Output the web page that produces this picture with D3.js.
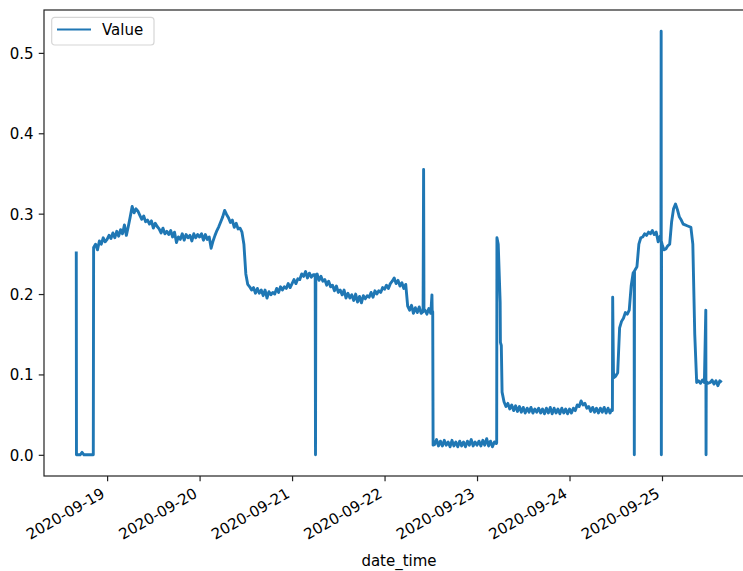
<!DOCTYPE html>
<html>
<head>
<meta charset="utf-8">
<script src="https://cdn.jsdelivr.net/npm/d3@7"></script>
<style>
  body { margin: 0; background: #ffffff; }
  svg { display: block; }
  text { font-family: "DejaVu Sans", sans-serif; fill: #000; }
</style>
</head>
<body>
<svg id="chart" width="743" height="571"></svg>
<script>
// Sensor readings, one value every 30 minutes, grouped by calendar day.
const seriesName = "Value";
const xAxisLabel = "date_time";
const stepMinutes = 30;

// 2020-09-18, from 16:00
const sep18 = [0.253, 0, 0, 0.003, 0, 0, 0, 0, 0, 0.258, 0.262, 0.255, 0.266, 0.262, 0.270, 0.265];

const sep19 = [
  0.268, 0.273, 0.269, 0.276, 0.270, 0.278, 0.272, 0.280, 0.275, 0.286,
  0.273, 0.284, 0.296, 0.309, 0.301, 0.306, 0.303, 0.298, 0.293, 0.297,
  0.290, 0.292, 0.287, 0.291, 0.282, 0.288, 0.284, 0.281, 0.276, 0.282,
  0.275, 0.278, 0.274, 0.279, 0.271, 0.277, 0.264, 0.271, 0.268, 0.275,
  0.267, 0.274, 0.270, 0.273, 0.266, 0.275, 0.270, 0.274
];

const sep20 = [
  0.271, 0.275, 0.267, 0.274, 0.268, 0.271, 0.257, 0.266, 0.273, 0.279,
  0.284, 0.290, 0.296, 0.304, 0.299, 0.295, 0.289, 0.292, 0.283, 0.288,
  0.281, 0.282, 0.277, 0.262, 0.225, 0.212, 0.209, 0.205, 0.208, 0.201,
  0.207, 0.201, 0.205, 0.198, 0.205, 0.195, 0.203, 0.199, 0.202, 0.200,
  0.207, 0.202, 0.209, 0.205, 0.209, 0.207, 0.213, 0.208
];

const sep21 = [
  0.213, 0.218, 0.213, 0.219, 0.218, 0.225, 0.222, 0.228, 0.220, 0.226,
  0.221, 0.224, 0.224, 0.225, 0.217, 0.222, 0.216, 0.218, 0.211, 0.216,
  0.209, 0.211, 0.204, 0.210, 0.202, 0.205, 0.199, 0.205, 0.195, 0.201,
  0.195, 0.199, 0.192, 0.200, 0.190, 0.197, 0.189, 0.198, 0.194, 0.198,
  0.196, 0.202, 0.196, 0.204, 0.200, 0.204, 0.202, 0.208
];

const sep22 = [
  0.206, 0.211, 0.207, 0.213, 0.216, 0.220, 0.213, 0.217, 0.210, 0.214,
  0.207, 0.212, 0.185, 0.180, 0.186, 0.176, 0.183, 0.177, 0.184, 0.176,
  0.178, 0.180, 0.175, 0.182, 0.176, 0.178, 0.013, 0.019, 0.011, 0.017,
  0.011, 0.018, 0.012, 0.016, 0.010, 0.018, 0.011, 0.016, 0.010, 0.017,
  0.011, 0.016, 0.010, 0.017, 0.012, 0.019, 0.011, 0.016
];

const sep23 = [
  0.012, 0.017, 0.011, 0.018, 0.012, 0.020, 0.011, 0.017, 0.010, 0.016,
  0.014, 0.262, 0.190, 0.078, 0.066, 0.060, 0.064, 0.057, 0.062, 0.055,
  0.061, 0.054, 0.060, 0.053, 0.059, 0.052, 0.058, 0.053, 0.059, 0.052,
  0.057, 0.053, 0.058, 0.052, 0.057, 0.051, 0.058, 0.052, 0.059, 0.051,
  0.058, 0.052, 0.057, 0.051, 0.058, 0.052, 0.057, 0.051
];

const sep24 = [
  0.057, 0.052, 0.058, 0.055, 0.062, 0.060, 0.067, 0.062, 0.064, 0.058,
  0.060, 0.054, 0.059, 0.053, 0.058, 0.052, 0.058, 0.053, 0.059, 0.052,
  0.058, 0.052, 0.057, 0.096, 0.098, 0.102, 0.158, 0.166, 0.170, 0.177,
  0.175, 0.180, 0.210, 0.226, 0.230, 0.234, 0.262, 0.270, 0.271, 0.275,
  0.273, 0.277, 0.275, 0.279, 0.274, 0.277, 0.265, 0.272
];

// 2020-09-25, up to 15:30
const sep25 = [
  0.262, 0.255, 0.256, 0.260, 0.262, 0.290, 0.306, 0.312, 0.305, 0.296,
  0.292, 0.287, 0.286, 0.285, 0.284, 0.283, 0.262, 0.150, 0.090, 0.092,
  0.089, 0.093, 0.090, 0.091, 0.089, 0.090, 0.093, 0.088, 0.092, 0.086,
  0.092, 0.090
];

// Short excursions recorded between the half-hourly samples.
const spikePoints = [
  ["2020-09-18T16:03", 0],
  ["2020-09-18T20:25", 0],
  ["2020-09-21T06:05", 0],
  ["2020-09-21T06:10", 0.222],
  ["2020-09-22T10:08", 0.355],
  ["2020-09-22T10:14", 0.179],
  ["2020-09-22T12:18", 0.199],
  ["2020-09-22T12:22", 0.178],
  ["2020-09-22T12:36", 0.012],
  ["2020-09-23T05:06", 0.015],
  ["2020-09-23T05:10", 0.270],
  ["2020-09-23T06:04", 0.140],
  ["2020-09-23T06:18", 0.136],
  ["2020-09-24T11:08", 0.055],
  ["2020-09-24T11:12", 0.196],
  ["2020-09-24T11:24", 0.104],
  ["2020-09-24T16:46", 0.228],
  ["2020-09-24T16:49", 0],
  ["2020-09-24T16:52", 0.229],
  ["2020-09-24T23:44", 0.270],
  ["2020-09-24T23:47", 0.527],
  ["2020-09-24T23:50", 0],
  ["2020-09-24T23:53", 0.265],
  ["2020-09-25T11:22", 0.180],
  ["2020-09-25T11:26", 0],
  ["2020-09-25T11:29", 0.090]
];

const segmentStarts = [
  "2020-09-18T16:00", "2020-09-19T00:00", "2020-09-20T00:00", "2020-09-21T00:00",
  "2020-09-22T00:00", "2020-09-23T00:00", "2020-09-24T00:00", "2020-09-25T00:00"
];
const segments = [sep18, sep19, sep20, sep21, sep22, sep23, sep24, sep25];

const xTickDates = ["2020-09-19", "2020-09-20", "2020-09-21", "2020-09-22",
                    "2020-09-23", "2020-09-24", "2020-09-25"];
const yTicks = [0.0, 0.1, 0.2, 0.3, 0.4, 0.5];

// ---- assemble the time series ----
const parseStamp = d3.timeParse("%Y-%m-%dT%H:%M");
const parseDay = d3.timeParse("%Y-%m-%d");
const regular = segments.flatMap((vals, i) => {
  const t0 = parseStamp(segmentStarts[i]);
  return vals.map((v, j) => ({ t: d3.timeMinute.offset(t0, j * stepMinutes), v }));
});
const extra = spikePoints.map(([s, v]) => ({ t: parseStamp(s), v }));
const data = regular.concat(extra).sort((a, b) => a.t - b.t);

// ---- layout ----
const frame = { left: 44, right: 754, top: 10, bottom: 476 };
const fontSize = 15;
const tickLen = 5.25;
const tickPad = 5.25;
const lineColor = "#1f77b4";
const axisColor = "#222";

// scales with 5% padding around the data extent
const [t0, t1] = d3.extent(data, d => d.t);
const tPad = (t1 - t0) * 0.05;
const x = d3.scaleTime()
  .domain([new Date(+t0 - tPad), new Date(+t1 + tPad)])
  .range([frame.left, frame.right]);

const [v0, v1] = d3.extent(data, d => d.v);
const vPad = (v1 - v0) * 0.05;
const y = d3.scaleLinear()
  .domain([v0 - vPad, v1 + vPad])
  .range([frame.bottom, frame.top]);

const svg = d3.select("#chart");

// ---- series line ----
const line = d3.line().x(d => x(d.t)).y(d => y(d.v));
svg.append("path")
  .datum(data)
  .attr("d", line)
  .attr("fill", "none")
  .attr("stroke", lineColor)
  .attr("stroke-width", 2.9)
  .attr("stroke-linejoin", "round")
  .attr("stroke-linecap", "butt");

// ---- axes frame ----
svg.append("rect")
  .attr("x", frame.left)
  .attr("y", frame.top)
  .attr("width", frame.right - frame.left)
  .attr("height", frame.bottom - frame.top)
  .attr("fill", "none")
  .attr("stroke", axisColor)
  .attr("stroke-width", 1.2);

// ---- x axis: daily ticks, rotated labels ----
const xAxis = d3.axisBottom(x)
  .tickValues(xTickDates.map(parseDay))
  .tickFormat(d3.timeFormat("%Y-%m-%d"))
  .tickSize(tickLen)
  .tickSizeOuter(0);

const gx = svg.append("g")
  .attr("transform", `translate(0,${frame.bottom})`)
  .call(xAxis);
gx.select(".domain").remove();
gx.selectAll(".tick line").attr("stroke", axisColor).attr("stroke-width", 1.2);
gx.selectAll(".tick text")
  .attr("y", null)
  .attr("dy", null)
  .attr("text-anchor", "end")
  .attr("transform", "translate(-1.8,20.4) rotate(-30)")
  .style("font-size", fontSize + "px")
  .style("font-family", "'DejaVu Sans', sans-serif")
  .attr("fill", "#000");

// ---- y axis ----
const yAxis = d3.axisLeft(y)
  .tickValues(yTicks)
  .tickFormat(d3.format(".1f"))
  .tickSize(tickLen)
  .tickPadding(tickPad)
  .tickSizeOuter(0);

const gy = svg.append("g")
  .attr("transform", `translate(${frame.left},0)`)
  .call(yAxis);
gy.select(".domain").remove();
gy.selectAll(".tick line").attr("stroke", axisColor).attr("stroke-width", 1.2);
gy.selectAll(".tick text")
  .attr("dy", "0.36em")
  .style("font-size", fontSize + "px")
  .style("font-family", "'DejaVu Sans', sans-serif")
  .attr("fill", "#000");

// ---- x axis title ----
svg.append("text")
  .attr("x", (frame.left + frame.right) / 2)
  .attr("y", 566)
  .attr("text-anchor", "middle")
  .style("font-size", fontSize + "px")
  .text(xAxisLabel);

// ---- legend ----
const legend = svg.append("g").attr("transform", "translate(51.7,17.3)");
legend.append("rect")
  .attr("width", 102.3)
  .attr("height", 27.7)
  .attr("rx", 3)
  .attr("fill", "#ffffff")
  .attr("fill-opacity", 0.8)
  .attr("stroke", "#d6d6d6")
  .attr("stroke-width", 1.2);
legend.append("line")
  .attr("x1", 5.3).attr("x2", 39.3)
  .attr("y1", 12.2).attr("y2", 12.2)
  .attr("stroke", lineColor)
  .attr("stroke-width", 2.2);
legend.append("text")
  .attr("x", 50.3)
  .attr("y", 17.7)
  .style("font-size", fontSize + "px")
  .text(seriesName);
</script>
</body>
</html>
